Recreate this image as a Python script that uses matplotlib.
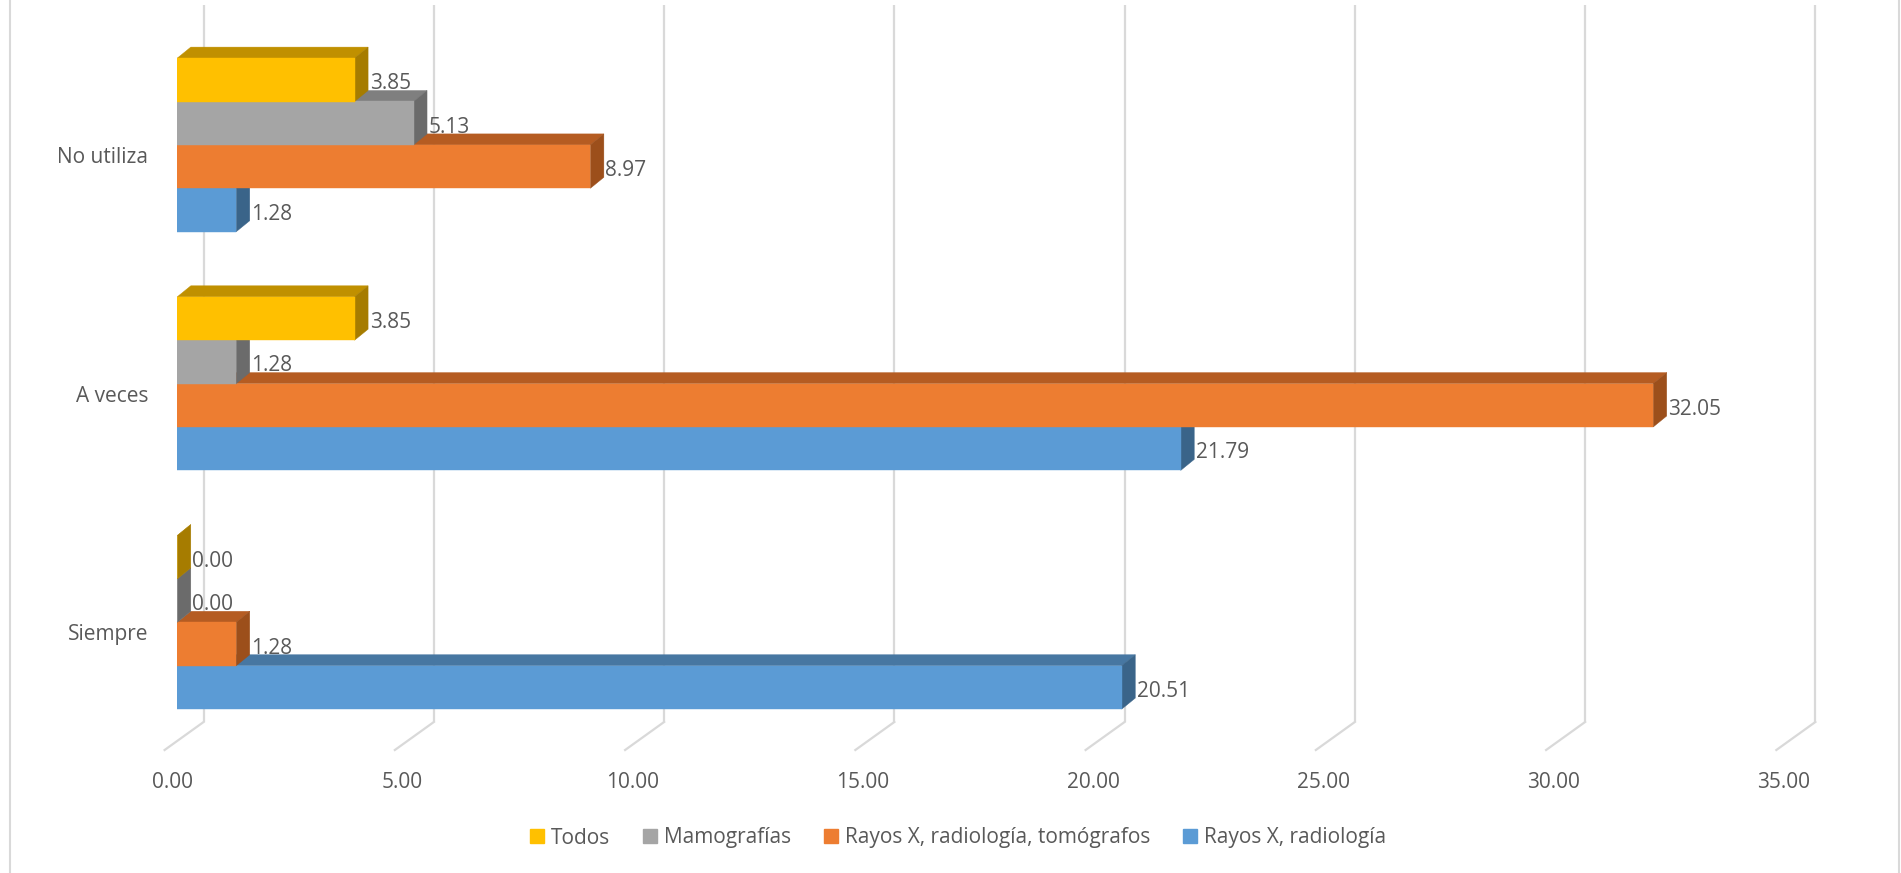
import matplotlib
matplotlib.use('Agg')
import matplotlib.pyplot as plt
from matplotlib.patches import Polygon, Patch, Rectangle
from matplotlib.transforms import ScaledTranslation, blended_transform_factory

plt.rcParams['font.family'] = ['Open Sans', 'DejaVu Sans']

categories = ['Siempre', 'A veces', 'No utiliza']
series_names = ['Rayos X, radiología', 'Rayos X, radiología, tomógrafos',
                'Mamografías', 'Todos']
rayos_x = [20.51, 21.79, 1.28]
rayos_x_tomografos = [1.28, 32.05, 8.97]
mamografias = [0.00, 1.28, 5.13]
todos = [0.00, 3.85, 3.85]
x_ticks = [0, 5, 10, 15, 20, 25, 30, 35]

series_values = [rayos_x, rayos_x_tomografos, mamografias, todos]
# front / top / side shading of each box
shades = [
    ('#5B9BD5', '#4777A2', '#3A6489'),
    ('#ED7D31', '#B55C22', '#9C4F1B'),
    ('#A5A5A5', '#7F7F7F', '#6B6B6B'),
    ('#FFC000', '#C09000', '#A67C00'),
]
TEXT = '#595959'
GRID = '#D9D9D9'
FS = 15

W, H, DPI = 1901, 873, 100
X0_PX = 177.3          # pixel column of value 0 on the front faces
PX_X = 46.05           # pixels per unit of value
Y0_PX = 622.3          # pixel row (from top) of the first group centre
PX_Y = 43.4            # pixels per bar height
GROUP_STEP = 5.5
XLIM = (0, 37)
YLIM = (-4, 14.3)

fig = plt.figure(figsize=(W / DPI, H / DPI), dpi=DPI)
ax = fig.add_axes([X0_PX / W,
                   (H - (Y0_PX - YLIM[0] * PX_Y)) / H,
                   (XLIM[1] - XLIM[0]) * PX_X / W,
                   (YLIM[1] - YLIM[0]) * PX_Y / H])
ax.set_xlim(*XLIM)
ax.set_ylim(*YLIM)
ax.axis('off')


def px(dx, dy):
    """pixel offset (right, up) -> data offset"""
    inv = ax.transData.inverted()
    a = inv.transform((0, 0))
    b = inv.transform((dx, dy))
    return b[0] - a[0], b[1] - a[1]


def shift(dx, dy):
    return ScaledTranslation(dx / DPI, dy / DPI, fig.dpi_scale_trans)


# box depth and floor geometry
bdx, bdy = px(13.5, 11)
wall_dx, _ = px(26.3, 0)
floor_dx, floor_dy = px(-39, -28)
wall_bottom = (Y0_PX - 722) / PX_Y
wall_top = (Y0_PX - 5) / PX_Y

for v in x_ticks:
    xb = v + wall_dx
    ax.plot([xb, xb], [wall_bottom, wall_top], color=GRID, lw=1.6,
            zorder=0.5, clip_on=False, solid_capstyle='butt')
    ax.plot([xb, xb + floor_dx], [wall_bottom, wall_bottom + floor_dy],
            color=GRID, lw=1.6, zorder=0.5, clip_on=False)


def draw_box(value, yc, front, top, side):
    y0, y1 = yc - 0.5, yc + 0.5
    ax.add_patch(Polygon([(0, y1), (value, y1), (value + bdx, y1 + bdy),
                          (bdx, y1 + bdy)], closed=True, fc=top, ec=top, lw=0.3))
    ax.add_patch(Polygon([(value, y0), (value + bdx, y0 + bdy),
                          (value + bdx, y1 + bdy), (value, y1)],
                         closed=True, fc=side, ec=side, lw=0.3))
    ax.barh(yc, value, height=1, left=0, color=front, edgecolor=front, lw=0.3)


offsets = [-1.5, -0.5, 0.5, 1.5]
for g, cat in enumerate(categories):
    gc = g * GROUP_STEP
    for s, vals in enumerate(series_values):
        draw_box(vals[g], gc + offsets[s], *shades[s])
    for s, vals in enumerate(series_values):
        ax.text(vals[g], gc + offsets[s], f'{vals[g]:.2f}', color=TEXT,
                fontsize=FS, ha='left', va='baseline',
                transform=ax.transData + shift(15, -9.5))
    ax.text(0, gc, cat, color=TEXT, fontsize=FS, ha='right', va='baseline',
            transform=ax.transData + shift(-29, -18))

tick_trans = blended_transform_factory(ax.transData, fig.transFigure)
for v in x_ticks:
    ax.text(v, 1 - 788 / H, f'{v:.2f}', color=TEXT, fontsize=FS,
            ha='center', va='baseline', transform=tick_trans + shift(-5, 0))

# chart area border
fig.add_artist(Rectangle((10 / W, -0.05), (1899 - 10) / W, 1.1,
                         transform=fig.transFigure, fill=False,
                         ec=GRID, lw=1.5))

handles = [Patch(color=shades[s][0]) for s in (3, 2, 1, 0)]
labels = [series_names[s] for s in (3, 2, 1, 0)]
fig.legend(handles, labels, loc='center', bbox_to_anchor=(958 / W, 1 - 838 / H),
           ncol=4, frameon=False, fontsize=FS, labelcolor=TEXT,
           handlelength=0.68, handleheight=0.68, handletextpad=0.3,
           columnspacing=1.6)

fig.savefig('out.png', dpi=DPI)
